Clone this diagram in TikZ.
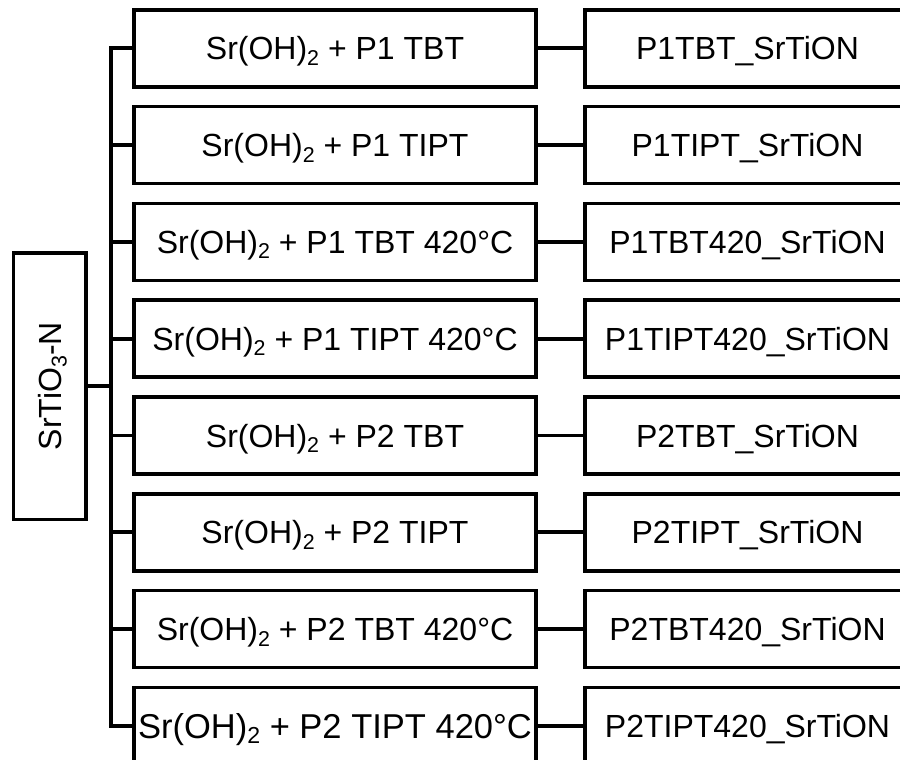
\documentclass[tikz,border=0pt]{standalone}
\usepackage{fontspec}
\setmainfont{Liberation Sans}
\usetikzlibrary{positioning}
\newcommand{\lowsub}[1]{\raisebox{-0.17em}{\scalebox{0.67}{#1}}}

\begin{document}
\begin{tikzpicture}[x=1pt, y=-1pt, line width=3.7pt,
    every node/.style={font=\fontsize{32}{38}\selectfont},
    rowbox/.style={draw, inner sep=0pt, minimum height=77pt, text height=23pt, text depth=0pt},
    srcbox/.style={rowbox, minimum width=402pt},
    samplebox/.style={rowbox, minimum width=325pt}]
\useasboundingbox (0,0) rectangle (900,760);
\clip (0,0) rectangle (900,760);
\node[draw, rotate=90, inner sep=0pt, minimum width=266.7pt, minimum height=72.7pt,
    text height=23pt, text depth=0pt] (sto) at (49.7,386) {SrTiO\lowsub{3}-N};
\coordinate (trunk) at (110.7,0);
\foreach \i/\prec/\sample in {1/P1 TBT/P1TBT, 2/P1 TIPT/P1TIPT,
    3/P1 TBT 420°C/P1TBT420, 4/P1 TIPT 420°C/P1TIPT420,
    5/P2 TBT/P2TBT, 6/P2 TIPT/P2TIPT, 7/P2 TBT 420°C/P2TBT420}
{
    \node[srcbox] (src\i) at (335,{48.3+(\i-1)*96.8}) {Sr(OH)\lowsub{2} + \prec};
    \node[samplebox] (smp\i) at (747.5,{48.3+(\i-1)*96.8}) {\sample\_SrTiON};
    \draw (src\i.east) -- (smp\i.west);
}
\node[srcbox, font=\fontsize{34.5}{40}\selectfont, text height=24pt] (src8) at (335,726)
    {Sr(OH)\lowsub{2} + P2 TIPT 420°C};
\node[samplebox] (smp8) at (747.5,726) {P2TIPT420\_SrTiON};
\draw (src8.east) -- (smp8.west);
\draw (src1.west) -- (src1.west -| trunk) -- (src8.west -| trunk) -- (src8.west);
\foreach \i in {2,...,7}
    \draw (src\i.west) -- (src\i.west -| trunk);
\draw (sto.south) -- (sto.south -| trunk);
\end{tikzpicture}
\end{document}
